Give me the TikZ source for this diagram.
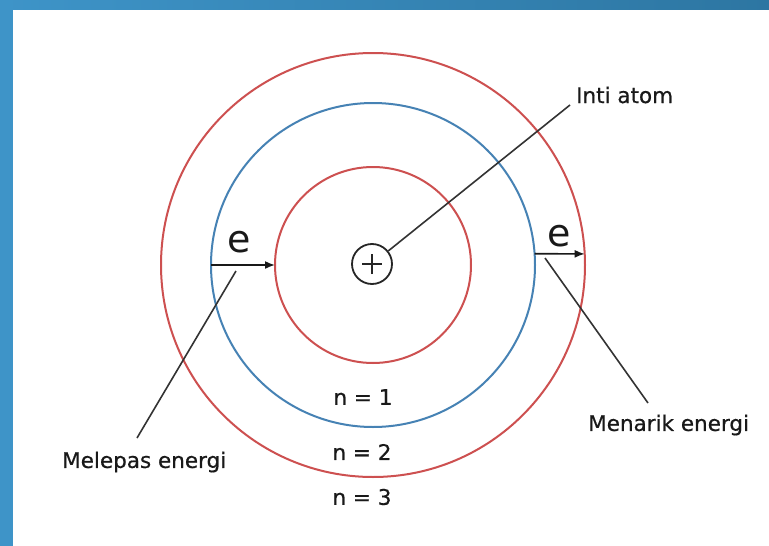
\documentclass[tikz,border=0pt]{standalone}
\usepackage{fontspec}
\setmainfont{DejaVu Sans}
\newfontfamily\lblfont[FakeBold=0.6]{DejaVu Sans}
\usetikzlibrary{arrows.meta}
\definecolor{orbred}{RGB}{205,80,80}
\definecolor{orbblue}{RGB}{70,130,180}
\definecolor{bandL}{RGB}{62,148,200}
\definecolor{bandR}{RGB}{45,118,162}
\begin{document}
\begin{tikzpicture}[x=1pt,y=-1pt,
  orbit/.style={circle,draw,line width=2pt,inner sep=0pt,outer sep=0pt},
  lbl/.style={font=\lblfont\fontsize{21.5}{24}\selectfont,text=black!90,inner sep=0pt},
  elbl/.style={font=\fontsize{38}{40}\selectfont,text=black!90,inner sep=0pt},
  leader/.style={line width=1.6pt,black!80},
  earrow/.style={line width=1.6pt,black!90,-{Latex[length=10pt,width=8pt]}}]
\useasboundingbox (0,0) rectangle (769,546);
\fill[white] (0,0) rectangle (769,546);
% border bands
\shade[left color=bandL,right color=bandR] (0,0) rectangle (769,9);
\fill[bandL] (0,0) rectangle (13,546);
% orbits
\coordinate (c) at (373,265);
\node[orbit,draw=orbred,minimum size=424pt] (o3) at (c) {};
\node[orbit,draw=orbblue,minimum size=324pt] (o2) at (c) {};
\node[orbit,draw=orbred,minimum size=196pt] (o1) at (c) {};
% nucleus
\node[circle,draw=black!85,line width=1.8pt,minimum size=40pt,inner sep=0pt] (nuc) at (372,264) {};
\draw[line width=2pt,black!85] ([xshift=-10pt]nuc.center) -- ([xshift=10pt]nuc.center)
  ([yshift=-10pt]nuc.center) -- ([yshift=10pt]nuc.center);
% electrons
\node[elbl] (e1) at (239,242) {e};
\node[elbl] (e2) at (559,236) {e};
\draw[earrow] (o2.west) -- (o1.west);
\draw[earrow] (o2.4.25) -- (o3.3.24);
% labels
\node[lbl,anchor=west] (ia) at (576,95) {Inti atom};
\node[lbl,anchor=west] (ml) at (62,462) {Melepas energi};
\node[lbl,anchor=west] (mn) at (588,425) {Menarik energi};
\node[lbl] (n1) at (363,397) {n = 1};
\node[lbl] (n2) at (362,452) {n = 2};
\node[lbl] (n3) at (362,497) {n = 3};
% leader lines
\coordinate (iaend) at (570,105);
\draw[leader] (nuc) -- (iaend);
\coordinate (mlstart) at (236,271);
\coordinate (mlend) at (137,438);
\draw[leader] (mlstart) -- (mlend);
\coordinate (mnstart) at (545,258);
\coordinate (mnend) at (648,403);
\draw[leader] (mnstart) -- (mnend);
\end{tikzpicture}
\end{document}
